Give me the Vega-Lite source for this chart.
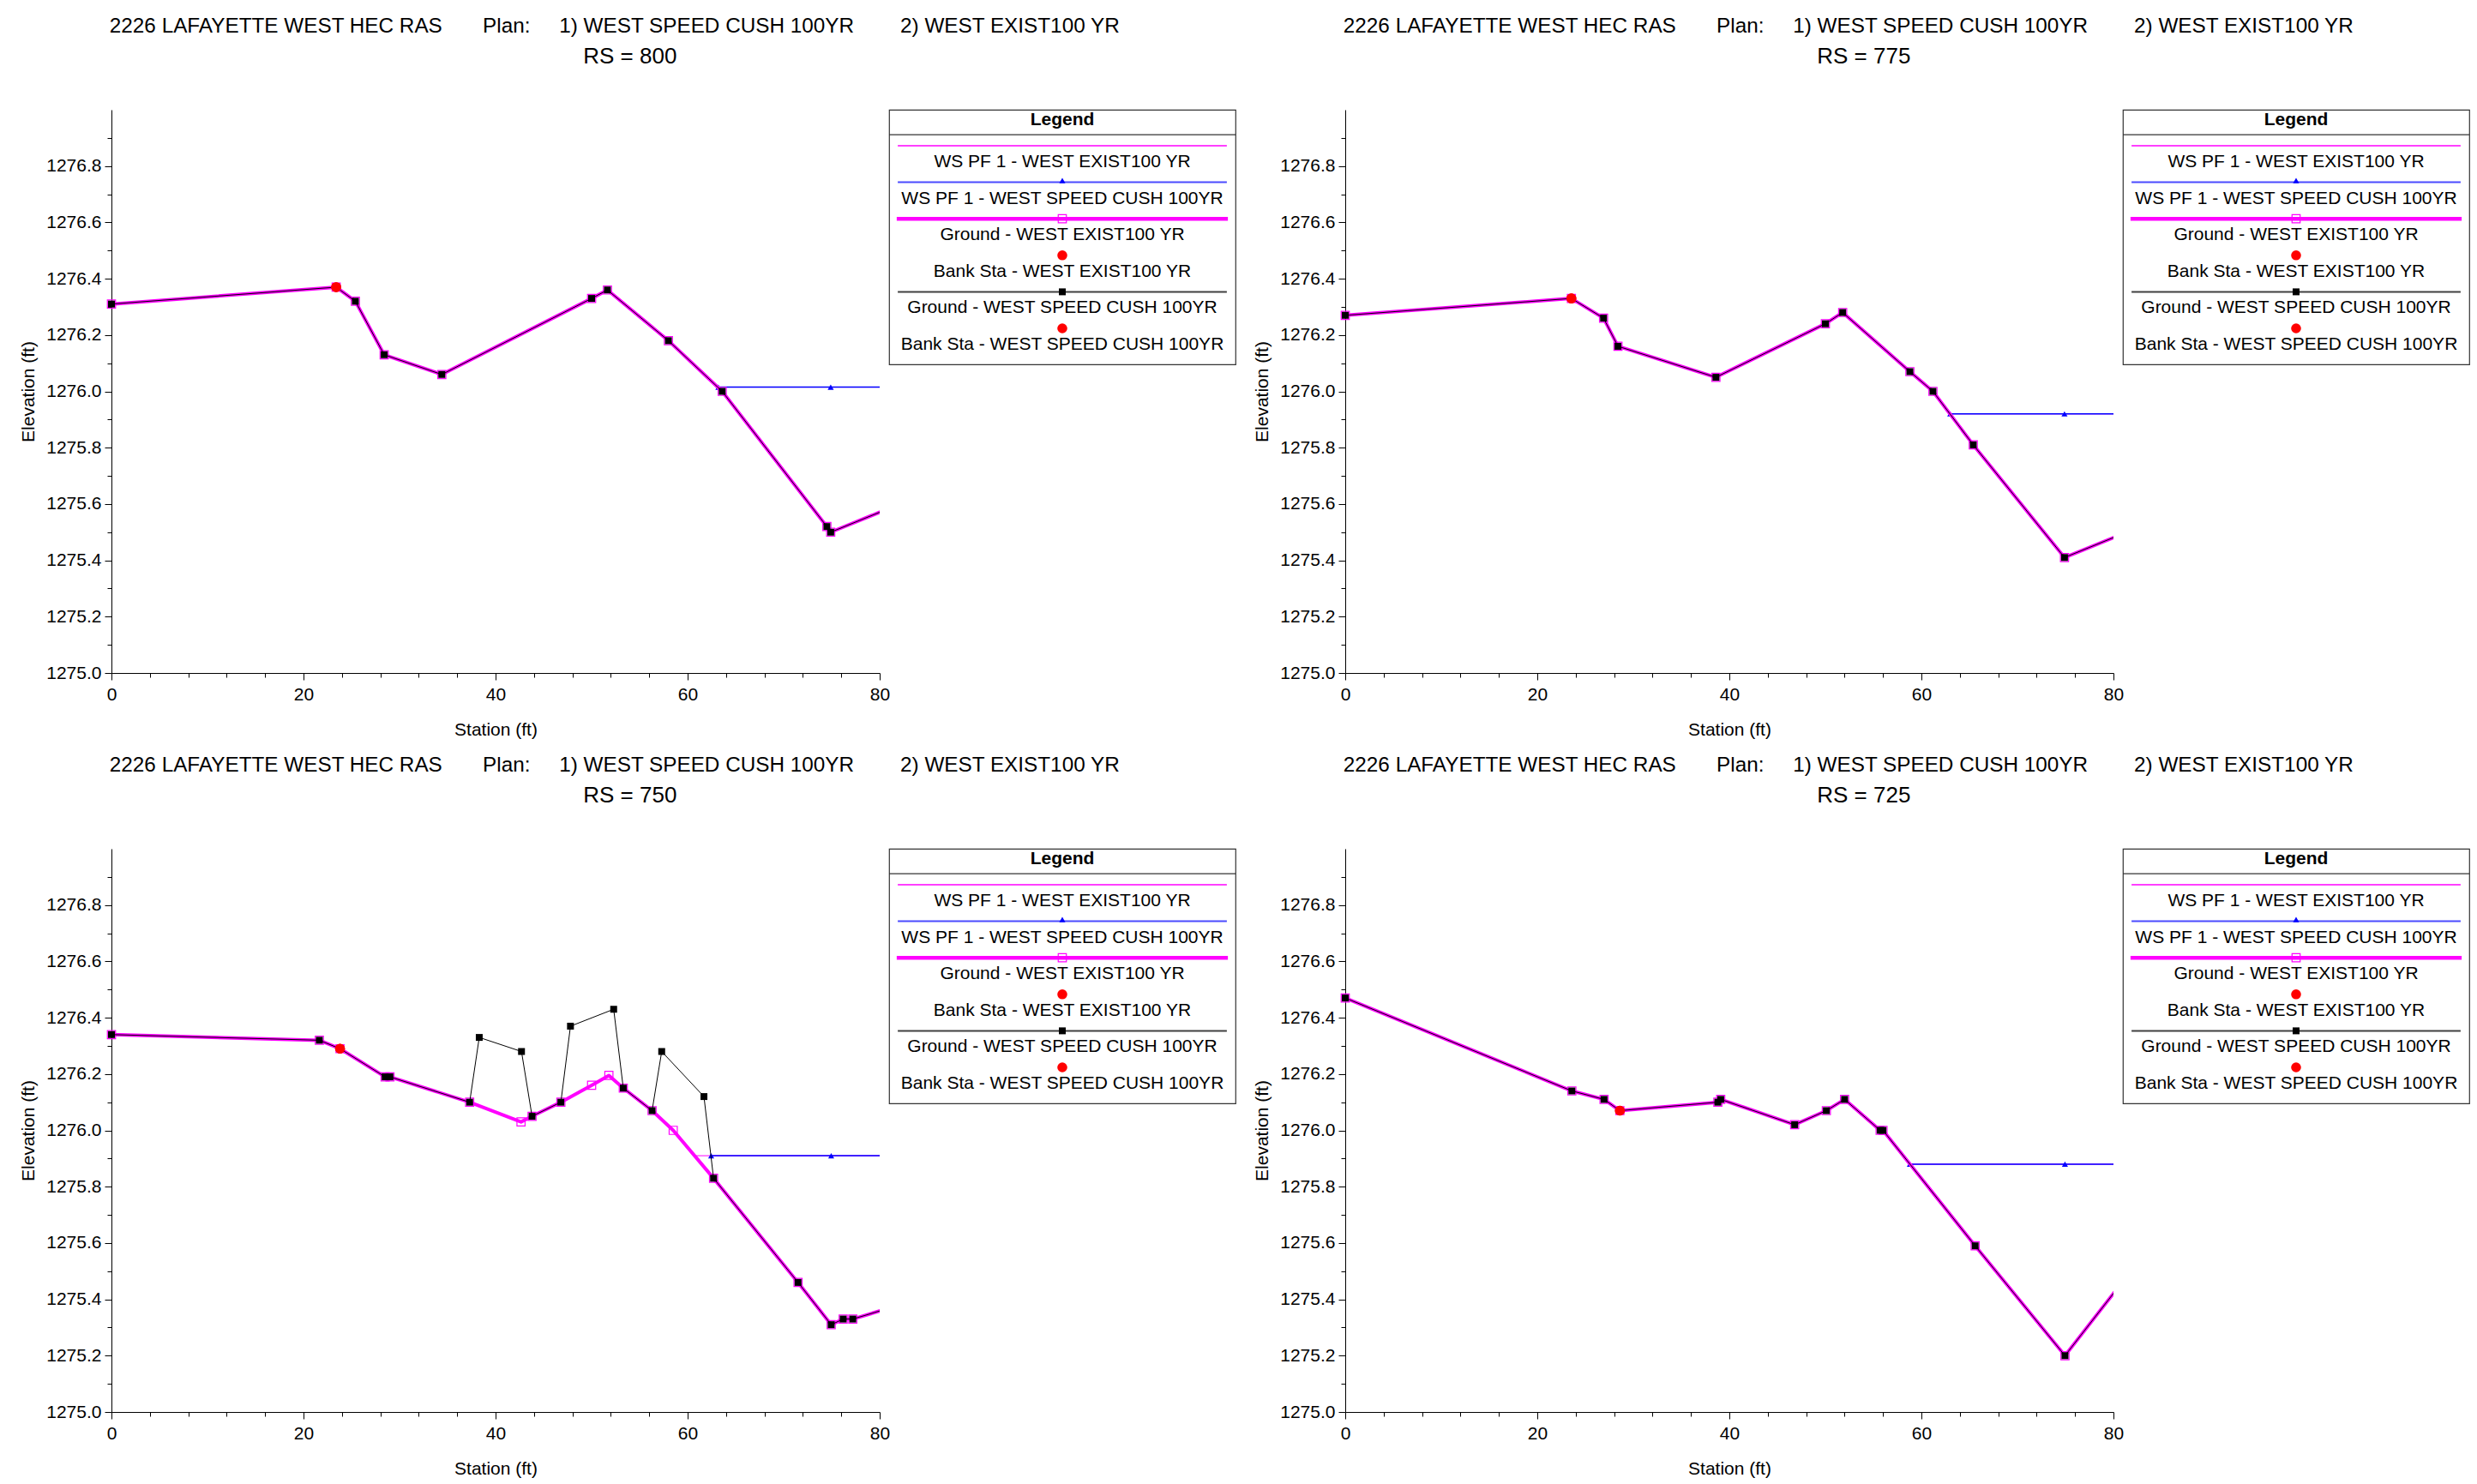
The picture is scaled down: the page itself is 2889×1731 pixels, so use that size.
{
"$schema":"https://vega.github.io/schema/vega-lite/v6.json",
"background":"white",
"padding":{"left":22,"top":19,"right":5,"bottom":5},
"config":{
 "font":"Liberation Sans",
 "view":{"stroke":null},
 "axis":{"domainColor":"black","tickColor":"black","labelColor":"black","titleColor":"black","labelFontSize":21,"titleFontSize":21,"titleFontWeight":"normal","grid":false,"labelFont":"Liberation Sans","titleFont":"Liberation Sans","labelOverlap":false,"labelFlush":false,"labelBound":false,"domainWidth":1,"tickWidth":1},
 "title":{"anchor":"start","fontSize":24.3,"fontWeight":"normal","subtitleFontSize":26,"subtitlePadding":10,"offset":48,"color":"black","subtitleColor":"black","font":"Liberation Sans","subtitleFont":"Liberation Sans"}
},
"datasets":{
 "legend":[
  {"row":1,"series":"ws_exist","label":"WS PF 1 - WEST EXIST100 YR"},
  {"row":2,"series":"ws_speed","label":"WS PF 1 - WEST SPEED CUSH 100YR"},
  {"row":3,"series":"gr_exist","label":"Ground - WEST EXIST100 YR"},
  {"row":4,"series":"bank_exist","label":"Bank Sta - WEST EXIST100 YR"},
  {"row":5,"series":"gr_speed","label":"Ground - WEST SPEED CUSH 100YR"},
  {"row":6,"series":"bank_speed","label":"Bank Sta - WEST SPEED CUSH 100YR"}
 ],
 "xs":[
  {"rs":800,"series":"gr_exist","station":0,"elev":1276.31},{"rs":800,"series":"gr_exist","station":23.4,"elev":1276.37},{"rs":800,"series":"gr_exist","station":25.4,"elev":1276.32},{"rs":800,"series":"gr_exist","station":28.4,"elev":1276.13},{"rs":800,"series":"gr_exist","station":34.4,"elev":1276.06},{"rs":800,"series":"gr_exist","station":50.0,"elev":1276.33},{"rs":800,"series":"gr_exist","station":51.65,"elev":1276.36},{"rs":800,"series":"gr_exist","station":58.0,"elev":1276.18},{"rs":800,"series":"gr_exist","station":63.6,"elev":1276.0},{"rs":800,"series":"gr_exist","station":74.5,"elev":1275.52},{"rs":800,"series":"gr_exist","station":74.9,"elev":1275.5},{"rs":800,"series":"gr_exist","station":85,"elev":1275.64},
  {"rs":800,"series":"gr_speed","station":0,"elev":1276.31},{"rs":800,"series":"gr_speed","station":23.4,"elev":1276.37},{"rs":800,"series":"gr_speed","station":25.4,"elev":1276.32},{"rs":800,"series":"gr_speed","station":28.4,"elev":1276.13},{"rs":800,"series":"gr_speed","station":34.4,"elev":1276.06},{"rs":800,"series":"gr_speed","station":50.0,"elev":1276.33},{"rs":800,"series":"gr_speed","station":51.65,"elev":1276.36},{"rs":800,"series":"gr_speed","station":58.0,"elev":1276.18},{"rs":800,"series":"gr_speed","station":63.6,"elev":1276.0},{"rs":800,"series":"gr_speed","station":74.5,"elev":1275.52},{"rs":800,"series":"gr_speed","station":74.9,"elev":1275.5},{"rs":800,"series":"gr_speed","station":85,"elev":1275.64},
  {"rs":800,"series":"bank_exist","station":23.4,"elev":1276.37},{"rs":800,"series":"bank_speed","station":23.4,"elev":1276.37},
  {"rs":800,"series":"ws_exist","station":63.2,"elev":1276.015},{"rs":800,"series":"ws_exist","station":74.9,"elev":1276.015},{"rs":800,"series":"ws_exist","station":95,"elev":1276.015},
  {"rs":800,"series":"ws_speed","station":63.2,"elev":1276.015},{"rs":800,"series":"ws_speed","station":74.9,"elev":1276.015},{"rs":800,"series":"ws_speed","station":95,"elev":1276.015},

  {"rs":775,"series":"gr_exist","station":0,"elev":1276.27},{"rs":775,"series":"gr_exist","station":23.55,"elev":1276.33},{"rs":775,"series":"gr_exist","station":26.9,"elev":1276.26},{"rs":775,"series":"gr_exist","station":28.4,"elev":1276.16},{"rs":775,"series":"gr_exist","station":38.6,"elev":1276.05},{"rs":775,"series":"gr_exist","station":50.0,"elev":1276.24},{"rs":775,"series":"gr_exist","station":51.8,"elev":1276.28},{"rs":775,"series":"gr_exist","station":58.8,"elev":1276.07},{"rs":775,"series":"gr_exist","station":61.2,"elev":1276.0},{"rs":775,"series":"gr_exist","station":65.4,"elev":1275.81},{"rs":775,"series":"gr_exist","station":74.9,"elev":1275.41},{"rs":775,"series":"gr_exist","station":85,"elev":1275.55},
  {"rs":775,"series":"gr_speed","station":0,"elev":1276.27},{"rs":775,"series":"gr_speed","station":23.55,"elev":1276.33},{"rs":775,"series":"gr_speed","station":26.9,"elev":1276.26},{"rs":775,"series":"gr_speed","station":28.4,"elev":1276.16},{"rs":775,"series":"gr_speed","station":38.6,"elev":1276.05},{"rs":775,"series":"gr_speed","station":50.0,"elev":1276.24},{"rs":775,"series":"gr_speed","station":51.8,"elev":1276.28},{"rs":775,"series":"gr_speed","station":58.8,"elev":1276.07},{"rs":775,"series":"gr_speed","station":61.2,"elev":1276.0},{"rs":775,"series":"gr_speed","station":65.4,"elev":1275.81},{"rs":775,"series":"gr_speed","station":74.9,"elev":1275.41},{"rs":775,"series":"gr_speed","station":85,"elev":1275.55},
  {"rs":775,"series":"bank_exist","station":23.55,"elev":1276.33},{"rs":775,"series":"bank_speed","station":23.55,"elev":1276.33},
  {"rs":775,"series":"ws_exist","station":63.0,"elev":1275.92},{"rs":775,"series":"ws_exist","station":74.9,"elev":1275.92},{"rs":775,"series":"ws_exist","station":95,"elev":1275.92},
  {"rs":775,"series":"ws_speed","station":63.0,"elev":1275.92},{"rs":775,"series":"ws_speed","station":74.9,"elev":1275.92},{"rs":775,"series":"ws_speed","station":95,"elev":1275.92},

  {"rs":750,"series":"gr_exist","station":0,"elev":1276.34},{"rs":750,"series":"gr_exist","station":21.65,"elev":1276.32},{"rs":750,"series":"gr_exist","station":23.8,"elev":1276.29},{"rs":750,"series":"gr_exist","station":28.5,"elev":1276.19},{"rs":750,"series":"gr_exist","station":29.0,"elev":1276.19},{"rs":750,"series":"gr_exist","station":37.3,"elev":1276.1},{"rs":750,"series":"gr_exist","station":42.65,"elev":1276.03},{"rs":750,"series":"gr_exist","station":43.8,"elev":1276.05},{"rs":750,"series":"gr_exist","station":46.8,"elev":1276.1},{"rs":750,"series":"gr_exist","station":50.0,"elev":1276.16},{"rs":750,"series":"gr_exist","station":51.8,"elev":1276.195},{"rs":750,"series":"gr_exist","station":53.3,"elev":1276.15},{"rs":750,"series":"gr_exist","station":56.3,"elev":1276.07},{"rs":750,"series":"gr_exist","station":58.5,"elev":1276.0},{"rs":750,"series":"gr_exist","station":62.7,"elev":1275.83},{"rs":750,"series":"gr_exist","station":71.5,"elev":1275.46},{"rs":750,"series":"gr_exist","station":74.95,"elev":1275.31},{"rs":750,"series":"gr_exist","station":76.2,"elev":1275.33},{"rs":750,"series":"gr_exist","station":77.2,"elev":1275.33},{"rs":750,"series":"gr_exist","station":85,"elev":1275.41},
  {"rs":750,"series":"gr_speed","station":0,"elev":1276.34},{"rs":750,"series":"gr_speed","station":21.65,"elev":1276.32},{"rs":750,"series":"gr_speed","station":23.8,"elev":1276.29},{"rs":750,"series":"gr_speed","station":28.5,"elev":1276.19},{"rs":750,"series":"gr_speed","station":29.0,"elev":1276.19},{"rs":750,"series":"gr_speed","station":37.3,"elev":1276.1},{"rs":750,"series":"gr_speed","station":38.3,"elev":1276.33},{"rs":750,"series":"gr_speed","station":42.7,"elev":1276.28},{"rs":750,"series":"gr_speed","station":43.8,"elev":1276.05},{"rs":750,"series":"gr_speed","station":46.8,"elev":1276.1},{"rs":750,"series":"gr_speed","station":47.8,"elev":1276.37},{"rs":750,"series":"gr_speed","station":52.3,"elev":1276.43},{"rs":750,"series":"gr_speed","station":53.3,"elev":1276.15},{"rs":750,"series":"gr_speed","station":56.3,"elev":1276.07},{"rs":750,"series":"gr_speed","station":57.3,"elev":1276.28},{"rs":750,"series":"gr_speed","station":61.7,"elev":1276.12},{"rs":750,"series":"gr_speed","station":62.7,"elev":1275.83},{"rs":750,"series":"gr_speed","station":71.5,"elev":1275.46},{"rs":750,"series":"gr_speed","station":74.95,"elev":1275.31},{"rs":750,"series":"gr_speed","station":76.2,"elev":1275.33},{"rs":750,"series":"gr_speed","station":77.2,"elev":1275.33},{"rs":750,"series":"gr_speed","station":85,"elev":1275.41},
  {"rs":750,"series":"bank_exist","station":23.8,"elev":1276.29},{"rs":750,"series":"bank_speed","station":23.8,"elev":1276.29},
  {"rs":750,"series":"ws_exist","station":60.7,"elev":1275.91},{"rs":750,"series":"ws_exist","station":74.95,"elev":1275.91},{"rs":750,"series":"ws_exist","station":95,"elev":1275.91},
  {"rs":750,"series":"ws_speed","station":62.45,"elev":1275.91},{"rs":750,"series":"ws_speed","station":74.95,"elev":1275.91},{"rs":750,"series":"ws_speed","station":95,"elev":1275.91},

  {"rs":725,"series":"gr_exist","station":0,"elev":1276.47},{"rs":725,"series":"gr_exist","station":23.6,"elev":1276.14},{"rs":725,"series":"gr_exist","station":26.95,"elev":1276.11},{"rs":725,"series":"gr_exist","station":28.6,"elev":1276.07},{"rs":725,"series":"gr_exist","station":38.8,"elev":1276.1},{"rs":725,"series":"gr_exist","station":39.1,"elev":1276.11},{"rs":725,"series":"gr_exist","station":46.8,"elev":1276.02},{"rs":725,"series":"gr_exist","station":50.1,"elev":1276.07},{"rs":725,"series":"gr_exist","station":52.0,"elev":1276.11},{"rs":725,"series":"gr_exist","station":55.7,"elev":1276.0},{"rs":725,"series":"gr_exist","station":56.0,"elev":1276.0},{"rs":725,"series":"gr_exist","station":65.6,"elev":1275.59},{"rs":725,"series":"gr_exist","station":74.95,"elev":1275.2},{"rs":725,"series":"gr_exist","station":85,"elev":1275.64},
  {"rs":725,"series":"gr_speed","station":0,"elev":1276.47},{"rs":725,"series":"gr_speed","station":23.6,"elev":1276.14},{"rs":725,"series":"gr_speed","station":26.95,"elev":1276.11},{"rs":725,"series":"gr_speed","station":28.6,"elev":1276.07},{"rs":725,"series":"gr_speed","station":38.8,"elev":1276.1},{"rs":725,"series":"gr_speed","station":39.1,"elev":1276.11},{"rs":725,"series":"gr_speed","station":46.8,"elev":1276.02},{"rs":725,"series":"gr_speed","station":50.1,"elev":1276.07},{"rs":725,"series":"gr_speed","station":52.0,"elev":1276.11},{"rs":725,"series":"gr_speed","station":55.7,"elev":1276.0},{"rs":725,"series":"gr_speed","station":56.0,"elev":1276.0},{"rs":725,"series":"gr_speed","station":65.6,"elev":1275.59},{"rs":725,"series":"gr_speed","station":74.95,"elev":1275.2},{"rs":725,"series":"gr_speed","station":85,"elev":1275.64},
  {"rs":725,"series":"bank_exist","station":28.6,"elev":1276.07},{"rs":725,"series":"bank_speed","station":28.6,"elev":1276.07},
  {"rs":725,"series":"ws_exist","station":58.8,"elev":1275.88},{"rs":725,"series":"ws_exist","station":74.95,"elev":1275.88},{"rs":725,"series":"ws_exist","station":95,"elev":1275.88},
  {"rs":725,"series":"ws_speed","station":58.8,"elev":1275.88},{"rs":725,"series":"ws_speed","station":74.95,"elev":1275.88},{"rs":725,"series":"ws_speed","station":95,"elev":1275.88}
 ]
},
"spacing":20,
"vconcat":[
 {"spacing":18,"hconcat":[
  {"title":{"text":"2226 LAFAYETTE WEST HEC RAS\u00a0\u00a0\u00a0\u00a0\u00a0\u00a0\u00a0Plan:\u00a0\u00a0\u00a0\u00a0\u00a01) WEST SPEED CUSH 100YR\u00a0\u00a0\u00a0\u00a0\u00a0\u00a0\u00a0\u00a02) WEST EXIST100 YR","subtitle":"\u200b\u00a0\u00a0\u00a0\u00a0\u00a0RS = 800","anchor":"start","align":"center","dx":694},
   "bounds":"flush","spacing":11,"hconcat":[
   {"width":896,"height":657,"data":{"name":"xs"},"transform":[{"filter":"datum.rs == 800"}],
    "encoding":{
     "x":{"field":"station","type":"quantitative","title":"Station (ft)","scale":{"domain":[0,80],"nice":false,"zero":false},"axis":{"values":[0,4,8,12,16,20,24,28,32,36,40,44,48,52,56,60,64,68,72,76,80],"labelExpr":"datum.value % 20 == 0 ? datum.label : ''","tickSize":{"condition":{"test":"datum.value % 20 == 0","value":8},"value":5},"labelPadding":6,"titlePadding":20}},
     "y":{"field":"elev","type":"quantitative","title":"Elevation (ft)","scale":{"domain":[1275,1277],"nice":false,"zero":false},"axis":{"values":[1275,1275.1,1275.2,1275.3,1275.4,1275.5,1275.6,1275.7,1275.8,1275.9,1276,1276.1,1276.2,1276.3,1276.4,1276.5,1276.6,1276.7,1276.8,1276.9],"labelExpr":"round(datum.value*10) % 2 == 0 ? format(datum.value, '.1f') : ''","tickSize":{"condition":{"test":"round(datum.value*10) % 2 == 0","value":8},"value":5},"labelPadding":4,"titlePadding":10}}
    },
    "layer":[
     {"transform":[{"filter":"datum.series=='ws_exist'"}],"mark":{"type":"line","color":"#ff00ff","strokeWidth":1,"clip":true}},
     {"transform":[{"filter":"datum.series=='ws_speed'"}],"mark":{"type":"line","color":"#0000ff","strokeWidth":1.5,"clip":true}},
     {"transform":[{"filter":"datum.series=='ws_speed' && datum.station <= 80"}],"mark":{"type":"point","shape":"triangle-up","filled":true,"color":"#0000ff","size":50,"opacity":1}},
     {"transform":[{"filter":"datum.series=='gr_exist'"}],"mark":{"type":"line","color":"#ff00ff","strokeWidth":4,"strokeJoin":"round","clip":true}},
     {"transform":[{"filter":"datum.series=='gr_exist' && datum.station <= 80"}],"mark":{"type":"point","shape":"square","filled":false,"color":"#ff00ff","size":90,"strokeWidth":1.2,"opacity":1}},
     {"transform":[{"filter":"datum.series=='gr_speed'"}],"mark":{"type":"line","color":"#000000","strokeWidth":1,"clip":true}},
     {"transform":[{"filter":"datum.series=='gr_speed' && datum.station <= 80"}],"mark":{"type":"point","shape":"square","filled":true,"color":"#000000","size":64,"opacity":1}},
     {"transform":[{"filter":"(datum.series=='bank_exist' || datum.series=='bank_speed') && datum.station <= 80"}],"mark":{"type":"point","shape":"circle","filled":true,"color":"#ff0000","size":135,"opacity":1}}
    ]},
   {"width":404,"height":297,"view":{"stroke":"#333333","strokeWidth":1.2},"data":{"name":"legend"},
    "encoding":{"x":{"datum":0.5,"type":"quantitative","scale":{"domain":[0,1]},"axis":null},"y":{"field":"row","type":"quantitative","scale":{"domain":[-0.432,6.54],"reverse":true},"axis":null}},
    "layer":[
     {"transform":[{"filter":"datum.row==1"}],"mark":{"type":"text","text":"Legend","fontSize":21,"fontWeight":"bold","dy":-6,"color":"black","baseline":"middle"},"encoding":{"y":{"datum":0,"type":"quantitative"}}},
     {"transform":[{"filter":"datum.row==1"}],"mark":{"type":"rule","color":"#333333","strokeWidth":1.2},"encoding":{"x":{"datum":0,"type":"quantitative"},"x2":{"datum":1},"y":{"datum":0.25,"type":"quantitative"}}},
     {"transform":[{"filter":"datum.series=='ws_exist'"}],"mark":{"type":"rule","color":"#ff00ff","strokeWidth":1.5,"yOffset":-19},"encoding":{"x":{"datum":0.025,"type":"quantitative"},"x2":{"datum":0.975}}},
     {"transform":[{"filter":"datum.series=='ws_speed'"}],"mark":{"type":"rule","color":"#4a4aff","strokeWidth":2,"yOffset":-19},"encoding":{"x":{"datum":0.025,"type":"quantitative"},"x2":{"datum":0.975}}},
     {"transform":[{"filter":"datum.series=='gr_exist'"}],"mark":{"type":"rule","color":"#ff00ff","strokeWidth":4.5,"yOffset":-19},"encoding":{"x":{"datum":0.022,"type":"quantitative"},"x2":{"datum":0.978}}},
     {"transform":[{"filter":"datum.series=='gr_speed'"}],"mark":{"type":"rule","color":"#404040","strokeWidth":2,"yOffset":-19},"encoding":{"x":{"datum":0.025,"type":"quantitative"},"x2":{"datum":0.975}}},
     {"transform":[{"filter":"datum.series=='ws_speed'"}],"mark":{"type":"point","shape":"triangle-up","filled":true,"color":"#0000ff","size":50,"opacity":1,"yOffset":-21}},
     {"transform":[{"filter":"datum.series=='gr_exist'"}],"mark":{"type":"point","shape":"square","filled":false,"color":"#ff00ff","size":90,"strokeWidth":1.2,"opacity":1,"yOffset":-19}},
     {"transform":[{"filter":"datum.series=='gr_speed'"}],"mark":{"type":"point","shape":"square","filled":true,"color":"#000000","size":64,"opacity":1,"yOffset":-19}},
     {"transform":[{"filter":"datum.series=='bank_exist' || datum.series=='bank_speed'"}],"mark":{"type":"point","shape":"circle","filled":true,"color":"#ff0000","size":135,"opacity":1,"yOffset":-19}},
     {"mark":{"type":"text","fontSize":21,"color":"black","baseline":"middle"},"encoding":{"text":{"field":"label"}}}
    ]}
  ]},
  {"title":{"text":"2226 LAFAYETTE WEST HEC RAS\u00a0\u00a0\u00a0\u00a0\u00a0\u00a0\u00a0Plan:\u00a0\u00a0\u00a0\u00a0\u00a01) WEST SPEED CUSH 100YR\u00a0\u00a0\u00a0\u00a0\u00a0\u00a0\u00a0\u00a02) WEST EXIST100 YR","subtitle":"\u200b\u00a0\u00a0\u00a0\u00a0\u00a0RS = 775","anchor":"start","align":"center","dx":694},
   "bounds":"flush","spacing":11,"hconcat":[
   {"width":896,"height":657,"data":{"name":"xs"},"transform":[{"filter":"datum.rs == 775"}],
    "encoding":{
     "x":{"field":"station","type":"quantitative","title":"Station (ft)","scale":{"domain":[0,80],"nice":false,"zero":false},"axis":{"values":[0,4,8,12,16,20,24,28,32,36,40,44,48,52,56,60,64,68,72,76,80],"labelExpr":"datum.value % 20 == 0 ? datum.label : ''","tickSize":{"condition":{"test":"datum.value % 20 == 0","value":8},"value":5},"labelPadding":6,"titlePadding":20}},
     "y":{"field":"elev","type":"quantitative","title":"Elevation (ft)","scale":{"domain":[1275,1277],"nice":false,"zero":false},"axis":{"values":[1275,1275.1,1275.2,1275.3,1275.4,1275.5,1275.6,1275.7,1275.8,1275.9,1276,1276.1,1276.2,1276.3,1276.4,1276.5,1276.6,1276.7,1276.8,1276.9],"labelExpr":"round(datum.value*10) % 2 == 0 ? format(datum.value, '.1f') : ''","tickSize":{"condition":{"test":"round(datum.value*10) % 2 == 0","value":8},"value":5},"labelPadding":4,"titlePadding":10}}
    },
    "layer":[
     {"transform":[{"filter":"datum.series=='ws_exist'"}],"mark":{"type":"line","color":"#ff00ff","strokeWidth":1,"clip":true}},
     {"transform":[{"filter":"datum.series=='ws_speed'"}],"mark":{"type":"line","color":"#0000ff","strokeWidth":1.5,"clip":true}},
     {"transform":[{"filter":"datum.series=='ws_speed' && datum.station <= 80"}],"mark":{"type":"point","shape":"triangle-up","filled":true,"color":"#0000ff","size":50,"opacity":1}},
     {"transform":[{"filter":"datum.series=='gr_exist'"}],"mark":{"type":"line","color":"#ff00ff","strokeWidth":4,"strokeJoin":"round","clip":true}},
     {"transform":[{"filter":"datum.series=='gr_exist' && datum.station <= 80"}],"mark":{"type":"point","shape":"square","filled":false,"color":"#ff00ff","size":90,"strokeWidth":1.2,"opacity":1}},
     {"transform":[{"filter":"datum.series=='gr_speed'"}],"mark":{"type":"line","color":"#000000","strokeWidth":1,"clip":true}},
     {"transform":[{"filter":"datum.series=='gr_speed' && datum.station <= 80"}],"mark":{"type":"point","shape":"square","filled":true,"color":"#000000","size":64,"opacity":1}},
     {"transform":[{"filter":"(datum.series=='bank_exist' || datum.series=='bank_speed') && datum.station <= 80"}],"mark":{"type":"point","shape":"circle","filled":true,"color":"#ff0000","size":135,"opacity":1}}
    ]},
   {"width":404,"height":297,"view":{"stroke":"#333333","strokeWidth":1.2},"data":{"name":"legend"},
    "encoding":{"x":{"datum":0.5,"type":"quantitative","scale":{"domain":[0,1]},"axis":null},"y":{"field":"row","type":"quantitative","scale":{"domain":[-0.432,6.54],"reverse":true},"axis":null}},
    "layer":[
     {"transform":[{"filter":"datum.row==1"}],"mark":{"type":"text","text":"Legend","fontSize":21,"fontWeight":"bold","dy":-6,"color":"black","baseline":"middle"},"encoding":{"y":{"datum":0,"type":"quantitative"}}},
     {"transform":[{"filter":"datum.row==1"}],"mark":{"type":"rule","color":"#333333","strokeWidth":1.2},"encoding":{"x":{"datum":0,"type":"quantitative"},"x2":{"datum":1},"y":{"datum":0.25,"type":"quantitative"}}},
     {"transform":[{"filter":"datum.series=='ws_exist'"}],"mark":{"type":"rule","color":"#ff00ff","strokeWidth":1.5,"yOffset":-19},"encoding":{"x":{"datum":0.025,"type":"quantitative"},"x2":{"datum":0.975}}},
     {"transform":[{"filter":"datum.series=='ws_speed'"}],"mark":{"type":"rule","color":"#4a4aff","strokeWidth":2,"yOffset":-19},"encoding":{"x":{"datum":0.025,"type":"quantitative"},"x2":{"datum":0.975}}},
     {"transform":[{"filter":"datum.series=='gr_exist'"}],"mark":{"type":"rule","color":"#ff00ff","strokeWidth":4.5,"yOffset":-19},"encoding":{"x":{"datum":0.022,"type":"quantitative"},"x2":{"datum":0.978}}},
     {"transform":[{"filter":"datum.series=='gr_speed'"}],"mark":{"type":"rule","color":"#404040","strokeWidth":2,"yOffset":-19},"encoding":{"x":{"datum":0.025,"type":"quantitative"},"x2":{"datum":0.975}}},
     {"transform":[{"filter":"datum.series=='ws_speed'"}],"mark":{"type":"point","shape":"triangle-up","filled":true,"color":"#0000ff","size":50,"opacity":1,"yOffset":-21}},
     {"transform":[{"filter":"datum.series=='gr_exist'"}],"mark":{"type":"point","shape":"square","filled":false,"color":"#ff00ff","size":90,"strokeWidth":1.2,"opacity":1,"yOffset":-19}},
     {"transform":[{"filter":"datum.series=='gr_speed'"}],"mark":{"type":"point","shape":"square","filled":true,"color":"#000000","size":64,"opacity":1,"yOffset":-19}},
     {"transform":[{"filter":"datum.series=='bank_exist' || datum.series=='bank_speed'"}],"mark":{"type":"point","shape":"circle","filled":true,"color":"#ff0000","size":135,"opacity":1,"yOffset":-19}},
     {"mark":{"type":"text","fontSize":21,"color":"black","baseline":"middle"},"encoding":{"text":{"field":"label"}}}
    ]}
  ]}
 ]},
 {"spacing":18,"hconcat":[
  {"title":{"text":"2226 LAFAYETTE WEST HEC RAS\u00a0\u00a0\u00a0\u00a0\u00a0\u00a0\u00a0Plan:\u00a0\u00a0\u00a0\u00a0\u00a01) WEST SPEED CUSH 100YR\u00a0\u00a0\u00a0\u00a0\u00a0\u00a0\u00a0\u00a02) WEST EXIST100 YR","subtitle":"\u200b\u00a0\u00a0\u00a0\u00a0\u00a0RS = 750","anchor":"start","align":"center","dx":694},
   "bounds":"flush","spacing":11,"hconcat":[
   {"width":896,"height":657,"data":{"name":"xs"},"transform":[{"filter":"datum.rs == 750"}],
    "encoding":{
     "x":{"field":"station","type":"quantitative","title":"Station (ft)","scale":{"domain":[0,80],"nice":false,"zero":false},"axis":{"values":[0,4,8,12,16,20,24,28,32,36,40,44,48,52,56,60,64,68,72,76,80],"labelExpr":"datum.value % 20 == 0 ? datum.label : ''","tickSize":{"condition":{"test":"datum.value % 20 == 0","value":8},"value":5},"labelPadding":6,"titlePadding":20}},
     "y":{"field":"elev","type":"quantitative","title":"Elevation (ft)","scale":{"domain":[1275,1277],"nice":false,"zero":false},"axis":{"values":[1275,1275.1,1275.2,1275.3,1275.4,1275.5,1275.6,1275.7,1275.8,1275.9,1276,1276.1,1276.2,1276.3,1276.4,1276.5,1276.6,1276.7,1276.8,1276.9],"labelExpr":"round(datum.value*10) % 2 == 0 ? format(datum.value, '.1f') : ''","tickSize":{"condition":{"test":"round(datum.value*10) % 2 == 0","value":8},"value":5},"labelPadding":4,"titlePadding":10}}
    },
    "layer":[
     {"transform":[{"filter":"datum.series=='ws_exist'"}],"mark":{"type":"line","color":"#ff00ff","strokeWidth":1,"clip":true}},
     {"transform":[{"filter":"datum.series=='ws_speed'"}],"mark":{"type":"line","color":"#0000ff","strokeWidth":1.5,"clip":true}},
     {"transform":[{"filter":"datum.series=='ws_speed' && datum.station <= 80"}],"mark":{"type":"point","shape":"triangle-up","filled":true,"color":"#0000ff","size":50,"opacity":1}},
     {"transform":[{"filter":"datum.series=='gr_exist'"}],"mark":{"type":"line","color":"#ff00ff","strokeWidth":4,"strokeJoin":"round","clip":true}},
     {"transform":[{"filter":"datum.series=='gr_exist' && datum.station <= 80"}],"mark":{"type":"point","shape":"square","filled":false,"color":"#ff00ff","size":90,"strokeWidth":1.2,"opacity":1}},
     {"transform":[{"filter":"datum.series=='gr_speed'"}],"mark":{"type":"line","color":"#000000","strokeWidth":1,"clip":true}},
     {"transform":[{"filter":"datum.series=='gr_speed' && datum.station <= 80"}],"mark":{"type":"point","shape":"square","filled":true,"color":"#000000","size":64,"opacity":1}},
     {"transform":[{"filter":"(datum.series=='bank_exist' || datum.series=='bank_speed') && datum.station <= 80"}],"mark":{"type":"point","shape":"circle","filled":true,"color":"#ff0000","size":135,"opacity":1}}
    ]},
   {"width":404,"height":297,"view":{"stroke":"#333333","strokeWidth":1.2},"data":{"name":"legend"},
    "encoding":{"x":{"datum":0.5,"type":"quantitative","scale":{"domain":[0,1]},"axis":null},"y":{"field":"row","type":"quantitative","scale":{"domain":[-0.432,6.54],"reverse":true},"axis":null}},
    "layer":[
     {"transform":[{"filter":"datum.row==1"}],"mark":{"type":"text","text":"Legend","fontSize":21,"fontWeight":"bold","dy":-6,"color":"black","baseline":"middle"},"encoding":{"y":{"datum":0,"type":"quantitative"}}},
     {"transform":[{"filter":"datum.row==1"}],"mark":{"type":"rule","color":"#333333","strokeWidth":1.2},"encoding":{"x":{"datum":0,"type":"quantitative"},"x2":{"datum":1},"y":{"datum":0.25,"type":"quantitative"}}},
     {"transform":[{"filter":"datum.series=='ws_exist'"}],"mark":{"type":"rule","color":"#ff00ff","strokeWidth":1.5,"yOffset":-19},"encoding":{"x":{"datum":0.025,"type":"quantitative"},"x2":{"datum":0.975}}},
     {"transform":[{"filter":"datum.series=='ws_speed'"}],"mark":{"type":"rule","color":"#4a4aff","strokeWidth":2,"yOffset":-19},"encoding":{"x":{"datum":0.025,"type":"quantitative"},"x2":{"datum":0.975}}},
     {"transform":[{"filter":"datum.series=='gr_exist'"}],"mark":{"type":"rule","color":"#ff00ff","strokeWidth":4.5,"yOffset":-19},"encoding":{"x":{"datum":0.022,"type":"quantitative"},"x2":{"datum":0.978}}},
     {"transform":[{"filter":"datum.series=='gr_speed'"}],"mark":{"type":"rule","color":"#404040","strokeWidth":2,"yOffset":-19},"encoding":{"x":{"datum":0.025,"type":"quantitative"},"x2":{"datum":0.975}}},
     {"transform":[{"filter":"datum.series=='ws_speed'"}],"mark":{"type":"point","shape":"triangle-up","filled":true,"color":"#0000ff","size":50,"opacity":1,"yOffset":-21}},
     {"transform":[{"filter":"datum.series=='gr_exist'"}],"mark":{"type":"point","shape":"square","filled":false,"color":"#ff00ff","size":90,"strokeWidth":1.2,"opacity":1,"yOffset":-19}},
     {"transform":[{"filter":"datum.series=='gr_speed'"}],"mark":{"type":"point","shape":"square","filled":true,"color":"#000000","size":64,"opacity":1,"yOffset":-19}},
     {"transform":[{"filter":"datum.series=='bank_exist' || datum.series=='bank_speed'"}],"mark":{"type":"point","shape":"circle","filled":true,"color":"#ff0000","size":135,"opacity":1,"yOffset":-19}},
     {"mark":{"type":"text","fontSize":21,"color":"black","baseline":"middle"},"encoding":{"text":{"field":"label"}}}
    ]}
  ]},
  {"title":{"text":"2226 LAFAYETTE WEST HEC RAS\u00a0\u00a0\u00a0\u00a0\u00a0\u00a0\u00a0Plan:\u00a0\u00a0\u00a0\u00a0\u00a01) WEST SPEED CUSH 100YR\u00a0\u00a0\u00a0\u00a0\u00a0\u00a0\u00a0\u00a02) WEST EXIST100 YR","subtitle":"\u200b\u00a0\u00a0\u00a0\u00a0\u00a0RS = 725","anchor":"start","align":"center","dx":694},
   "bounds":"flush","spacing":11,"hconcat":[
   {"width":896,"height":657,"data":{"name":"xs"},"transform":[{"filter":"datum.rs == 725"}],
    "encoding":{
     "x":{"field":"station","type":"quantitative","title":"Station (ft)","scale":{"domain":[0,80],"nice":false,"zero":false},"axis":{"values":[0,4,8,12,16,20,24,28,32,36,40,44,48,52,56,60,64,68,72,76,80],"labelExpr":"datum.value % 20 == 0 ? datum.label : ''","tickSize":{"condition":{"test":"datum.value % 20 == 0","value":8},"value":5},"labelPadding":6,"titlePadding":20}},
     "y":{"field":"elev","type":"quantitative","title":"Elevation (ft)","scale":{"domain":[1275,1277],"nice":false,"zero":false},"axis":{"values":[1275,1275.1,1275.2,1275.3,1275.4,1275.5,1275.6,1275.7,1275.8,1275.9,1276,1276.1,1276.2,1276.3,1276.4,1276.5,1276.6,1276.7,1276.8,1276.9],"labelExpr":"round(datum.value*10) % 2 == 0 ? format(datum.value, '.1f') : ''","tickSize":{"condition":{"test":"round(datum.value*10) % 2 == 0","value":8},"value":5},"labelPadding":4,"titlePadding":10}}
    },
    "layer":[
     {"transform":[{"filter":"datum.series=='ws_exist'"}],"mark":{"type":"line","color":"#ff00ff","strokeWidth":1,"clip":true}},
     {"transform":[{"filter":"datum.series=='ws_speed'"}],"mark":{"type":"line","color":"#0000ff","strokeWidth":1.5,"clip":true}},
     {"transform":[{"filter":"datum.series=='ws_speed' && datum.station <= 80"}],"mark":{"type":"point","shape":"triangle-up","filled":true,"color":"#0000ff","size":50,"opacity":1}},
     {"transform":[{"filter":"datum.series=='gr_exist'"}],"mark":{"type":"line","color":"#ff00ff","strokeWidth":4,"strokeJoin":"round","clip":true}},
     {"transform":[{"filter":"datum.series=='gr_exist' && datum.station <= 80"}],"mark":{"type":"point","shape":"square","filled":false,"color":"#ff00ff","size":90,"strokeWidth":1.2,"opacity":1}},
     {"transform":[{"filter":"datum.series=='gr_speed'"}],"mark":{"type":"line","color":"#000000","strokeWidth":1,"clip":true}},
     {"transform":[{"filter":"datum.series=='gr_speed' && datum.station <= 80"}],"mark":{"type":"point","shape":"square","filled":true,"color":"#000000","size":64,"opacity":1}},
     {"transform":[{"filter":"(datum.series=='bank_exist' || datum.series=='bank_speed') && datum.station <= 80"}],"mark":{"type":"point","shape":"circle","filled":true,"color":"#ff0000","size":135,"opacity":1}}
    ]},
   {"width":404,"height":297,"view":{"stroke":"#333333","strokeWidth":1.2},"data":{"name":"legend"},
    "encoding":{"x":{"datum":0.5,"type":"quantitative","scale":{"domain":[0,1]},"axis":null},"y":{"field":"row","type":"quantitative","scale":{"domain":[-0.432,6.54],"reverse":true},"axis":null}},
    "layer":[
     {"transform":[{"filter":"datum.row==1"}],"mark":{"type":"text","text":"Legend","fontSize":21,"fontWeight":"bold","dy":-6,"color":"black","baseline":"middle"},"encoding":{"y":{"datum":0,"type":"quantitative"}}},
     {"transform":[{"filter":"datum.row==1"}],"mark":{"type":"rule","color":"#333333","strokeWidth":1.2},"encoding":{"x":{"datum":0,"type":"quantitative"},"x2":{"datum":1},"y":{"datum":0.25,"type":"quantitative"}}},
     {"transform":[{"filter":"datum.series=='ws_exist'"}],"mark":{"type":"rule","color":"#ff00ff","strokeWidth":1.5,"yOffset":-19},"encoding":{"x":{"datum":0.025,"type":"quantitative"},"x2":{"datum":0.975}}},
     {"transform":[{"filter":"datum.series=='ws_speed'"}],"mark":{"type":"rule","color":"#4a4aff","strokeWidth":2,"yOffset":-19},"encoding":{"x":{"datum":0.025,"type":"quantitative"},"x2":{"datum":0.975}}},
     {"transform":[{"filter":"datum.series=='gr_exist'"}],"mark":{"type":"rule","color":"#ff00ff","strokeWidth":4.5,"yOffset":-19},"encoding":{"x":{"datum":0.022,"type":"quantitative"},"x2":{"datum":0.978}}},
     {"transform":[{"filter":"datum.series=='gr_speed'"}],"mark":{"type":"rule","color":"#404040","strokeWidth":2,"yOffset":-19},"encoding":{"x":{"datum":0.025,"type":"quantitative"},"x2":{"datum":0.975}}},
     {"transform":[{"filter":"datum.series=='ws_speed'"}],"mark":{"type":"point","shape":"triangle-up","filled":true,"color":"#0000ff","size":50,"opacity":1,"yOffset":-21}},
     {"transform":[{"filter":"datum.series=='gr_exist'"}],"mark":{"type":"point","shape":"square","filled":false,"color":"#ff00ff","size":90,"strokeWidth":1.2,"opacity":1,"yOffset":-19}},
     {"transform":[{"filter":"datum.series=='gr_speed'"}],"mark":{"type":"point","shape":"square","filled":true,"color":"#000000","size":64,"opacity":1,"yOffset":-19}},
     {"transform":[{"filter":"datum.series=='bank_exist' || datum.series=='bank_speed'"}],"mark":{"type":"point","shape":"circle","filled":true,"color":"#ff0000","size":135,"opacity":1,"yOffset":-19}},
     {"mark":{"type":"text","fontSize":21,"color":"black","baseline":"middle"},"encoding":{"text":{"field":"label"}}}
    ]}
  ]}
 ]}
]
}
